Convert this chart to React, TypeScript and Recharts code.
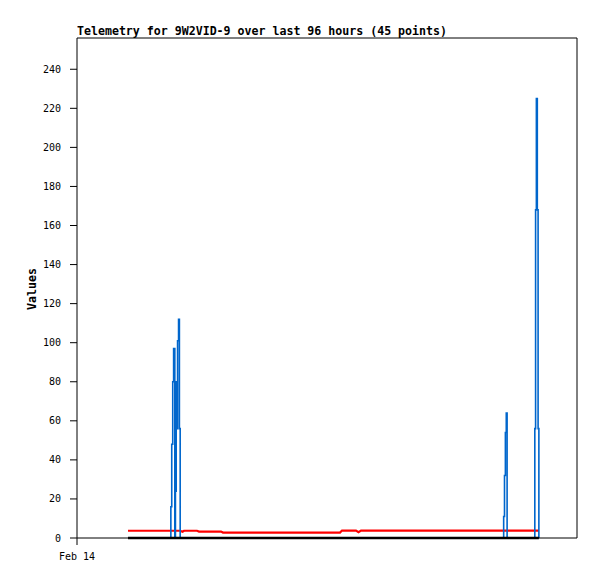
import React from 'react';
import { LineChart, Line, XAxis, YAxis, ReferenceLine } from 'recharts';

// hours since start of the 96-hour window
const times = [
  9.79, 14.02, 17.95, 18.02, 18.19, 18.38, 18.55, 18.78, 18.9, 19.05, 19.18,
  19.31, 19.5, 19.66, 19.81, 20.26, 20.54, 23.04, 23.42, 27.65, 28.03, 35.14,
  42.82, 50.5, 50.88, 53.57, 54.05, 54.53, 62.02, 71.62, 81.87, 81.92, 82.08,
  82.25, 82.42, 82.58, 87.84, 87.9, 88.05, 88.2, 88.38, 88.53, 88.68,
];
const redValues = [
  3.7, 3.7, 3.7, 3.7, 3.7, 3.7, 3.7, 3.7, 3.7, 3.7, 3.7,
  3.7, 3.7, 3.7, 3.7, 3.2, 3.7, 3.7, 3.3, 3.3, 2.8, 2.8,
  2.8, 2.8, 3.8, 3.8, 3.0, 3.8, 3.8, 3.8, 3.8, 3.8, 3.8,
  3.8, 3.8, 3.8, 3.8, 3.8, 3.8, 3.8, 3.8, 3.8, 3.8,
];
const blueValues = [
  0, 0, 0, 16, 48, 80, 97, 0, 24, 80, 56,
  101, 112, 56, 0, 0, 0, 0, 0, 0, 0, 0,
  0, 0, 0, 0, 0, 0, 0, 0, 0, 11, 32,
  54, 64, 0, 0, 56, 168, 225, 168, 56, 0,
];
const blackValues = times.map(() => 0);

const yTicks = [0, 20, 40, 60, 80, 100, 120, 140, 160, 180, 200, 220, 240];
const xTicks = [0];
const xTickLabels = ['Feb 14'];
const title = 'Telemetry for 9W2VID-9 over last 96 hours (45 points)';
const yLabel = 'Values';

const data = times.map((t, i) => ({
  t,
  red: redValues[i],
  blue: blueValues[i],
  black: blackValues[i],
}));

const FONT = '"DejaVu Sans Mono", monospace';

export default function App() {
  return (
    <div style={{ position: 'absolute', left: 0, top: 0, width: 597, height: 579, background: '#fff' }}>
      <LineChart
        width={597}
        height={579}
        data={data}
        margin={{ top: 38, right: 20, left: 0, bottom: 0 }}
      >
        <XAxis
          dataKey="t"
          type="number"
          domain={[0, 96]}
          ticks={xTicks}
          tickFormatter={(v: number) => xTickLabels[xTicks.indexOf(v)] ?? ''}
          height={41}
          tickSize={7}
          tickMargin={8}
          stroke="#000"
          tick={{ fill: '#000', fontSize: 10, fontFamily: FONT }}
          interval={0}
        />
        <YAxis
          type="number"
          domain={[0, 256]}
          ticks={yTicks}
          width={77}
          tickSize={7}
          tickMargin={9}
          stroke="#000"
          tick={{ fill: '#000', fontSize: 10, fontFamily: FONT }}
          interval={0}
        />
        <ReferenceLine y={256} stroke="#000" strokeWidth={1} />
        <ReferenceLine x={96} stroke="#000" strokeWidth={1} />
        <Line
          dataKey="red"
          type="linear"
          stroke="#ff0000"
          strokeWidth={2.2}
          dot={false}
          isAnimationActive={false}
        />
        <Line
          dataKey="blue"
          type="stepAfter"
          stroke="#0066cc"
          strokeWidth={1.6}
          dot={false}
          isAnimationActive={false}
        />
        <Line
          dataKey="black"
          type="linear"
          stroke="#000"
          strokeWidth={2.5}
          dot={false}
          isAnimationActive={false}
        />
      </LineChart>
      <svg
        width={597}
        height={579}
        style={{ position: 'absolute', left: 0, top: 0, pointerEvents: 'none' }}
      >
        <text
          x={77}
          y={35}
          fontFamily={FONT}
          fontWeight="bold"
          fontSize={11.6}
          fill="#000"
          textLength={370}
          lengthAdjust="spacingAndGlyphs"
        >
          {title}
        </text>
        <text
          transform="translate(36,289) rotate(-90)"
          textAnchor="middle"
          fontFamily={FONT}
          fontWeight="bold"
          fontSize={11.6}
          fill="#000"
        >
          {yLabel}
        </text>
      </svg>
    </div>
  );
}
